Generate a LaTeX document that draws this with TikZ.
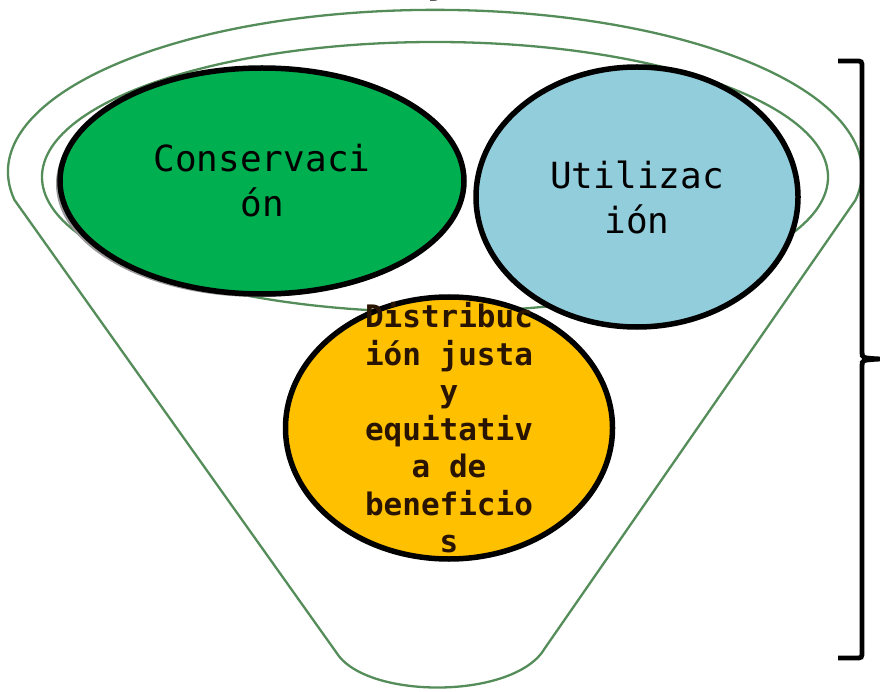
\documentclass[tikz,border=0pt]{standalone}
\usepackage{fontspec}
\usepackage{tikz}
\usetikzlibrary{shapes.geometric,shadows}
\newfontfamily\blobfont{DejaVu Sans Mono}
\newfontfamily\headfont{DejaVu Sans}
\definecolor{funnelgreen}{RGB}{84,141,89}
\definecolor{consgreen}{RGB}{0,176,80}
\definecolor{utilblue}{RGB}{146,205,220}
\definecolor{distgold}{RGB}{255,192,0}
\definecolor{distink}{RGB}{40,20,0}
\tikzset{rim/.style={draw=funnelgreen,line width=2.3pt},
  blob/.style={ellipse,draw=black,line width=5.5pt,inner sep=0pt},
  blobtext/.style={align=center,font=\blobfont\fontsize{36}{45}\selectfont},
  disttext/.style={align=center,text=distink,font=\blobfont\bfseries\fontsize{31}{37.5}\selectfont}}

\begin{document}
\begin{tikzpicture}[x=1pt,y=-1pt]
\useasboundingbox (0,0) rectangle (880,692);
% funnel and its rim
\draw[rim] (14.5,200) arc[start angle=170,end angle=370,x radius=427,y radius=162]
  -- (545,648) .. controls (515,700) and (365,700) .. (336,652) -- cycle;
\draw[rim] (435,177) ellipse[x radius=393,y radius=135];
\node[font=\headfont\bfseries\fontsize{40}{40}\selectfont,anchor=base] (topY) at (440,-7) {y};
% the three blobs
\node[blob,fill=consgreen,minimum width=404pt,minimum height=226pt,
  drop shadow={shadow xshift=-4pt,shadow yshift=-3pt,fill=gray!80,opacity=1}] (cons) at (262,181) {};
\node[blob,fill=utilblue,minimum width=322pt,minimum height=260pt] (util) at (637,197) {};
\node[blob,fill=distgold,minimum width=327pt,minimum height=262pt] (dist) at (449,428) {};
\node[blobtext] (consT) at (cons) {Conservaci\\ón};
\node[blobtext] (utilT) at (util) {Utilizac\\ión};
\node[disttext] (distT) at (dist) {Distribuc\\ión justa\\y\\equitativ\\a de\\beneficio\\s};
% brace
\draw[line width=4.8pt] (838,61) -- (855,61) .. controls (862,61) .. (862,68) -- (862,352)
  .. controls (862,358) .. (880,359) .. controls (862,360) .. (862,366) -- (862,651)
  .. controls (862,658) .. (855,658) -- (838,658);
\end{tikzpicture}
\end{document}
